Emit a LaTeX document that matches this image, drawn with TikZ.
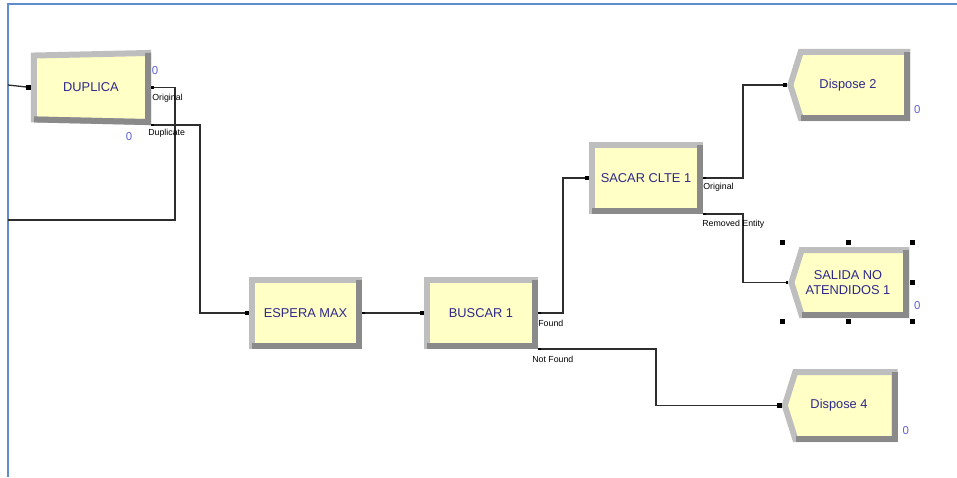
\documentclass[tikz,border=0pt]{standalone}
\usepackage{fontspec}
\setmainfont{Liberation Sans}
\usetikzlibrary{shapes.geometric,shapes.symbols,positioning,calc}

\definecolor{amarillo}{RGB}{255,255,198}
\definecolor{biselclaro}{RGB}{190,190,190}
\definecolor{biseloscuro}{RGB}{138,138,138}
\definecolor{azultexto}{RGB}{45,40,140}
\definecolor{azulcont}{RGB}{95,95,210}
\definecolor{marco}{RGB}{95,140,205}
\definecolor{linea}{RGB}{45,45,45}

% dark bevel on bottom and right side
\newcommand{\bisel}[1]{%
  \draw[biselos] ($(#1.south west)+(3,-3)$) -- ($(#1.south east)+(-3,-3)$) -- ($(#1.north east)+(-3,3)$);}
\newcommand{\biselsal}[1]{%
  \draw[biselos] ($(#1.south -| #1.west)+(14,-3)$) -- ($(#1.south -| #1.east)+(-3,-3)$) -- ($(#1.north -| #1.east)+(-3,3)$);}
\newcommand{\izq}{\hspace*{2.4mm}}

\begin{document}
\begin{tikzpicture}[x=0.2mm, y=-0.2mm,
    modulo/.style={rectangle, draw=biselclaro, line width=1.2mm, fill=amarillo, inner sep=0pt,
                   align=center, text=azultexto, font=\fontsize{7.3}{8.6}\selectfont,
                   minimum height=13.2mm},
    desecho/.style={modulo, signal, signal to=west, signal pointer angle=145},
    torcido/.style={modulo, trapezium, shape border rotate=90, trapezium stretches body,
                    trapezium left angle=87.4, trapezium right angle=87.4},
    biselos/.style={draw=biseloscuro, line width=1.2mm},
    flujo/.style={draw=linea, line width=0.26mm},
    entrada/.style={fill=black, minimum size=0.9mm, inner sep=0pt, outer sep=0pt},
    puntosal/.style={fill=black, minimum size=0.5mm, inner sep=0pt, outer sep=0pt},
    rotulo/.style={font=\fontsize{5}{5}\selectfont, anchor=west, inner sep=0pt},
    contador/.style={font=\fontsize{6.5}{6.5}\selectfont, text=azulcont, inner sep=0pt},
    manija/.style={fill=black, minimum size=1mm, inner sep=0pt}
]
\useasboundingbox (0,0) rectangle (957,477);
\draw[marco, line width=0.3mm] (8,477) -- (8,4) -- (957,4);

% trapezium sizes are given before the rotation
\node[torcido, minimum width=13.8mm, minimum height=22.8mm] (duplica) at (91,87.5) {DUPLICA};
\node[modulo, minimum width=21.4mm] (espera) at (305.5,313) {ESPERA MAX};
\node[modulo, minimum width=21.6mm, right=12.4mm of espera] (buscar) {BUSCAR 1};
\node[modulo, minimum width=21.6mm] (sacar) at (646,178) {SACAR CLTE 1};
\node[desecho, minimum width=23.4mm] (d2) at (854,85) {Dispose 2\izq};
\node[desecho, minimum width=23mm, minimum height=13mm] (salida) at (854,282.5) {SALIDA NO\izq\\ATENDIDOS 1\izq};
\node[desecho, minimum width=22mm, minimum height=13.4mm] (d4) at (845,405.5) {Dispose 4\izq};

\draw[biselos] ($(duplica.top left corner)+(3,-3)$) -- ($(duplica.bottom left corner)+(-3,-3)$)
  -- ($(duplica.bottom right corner)+(-3,3)$);
\foreach \n in {espera,buscar,sacar} {\bisel{\n}}
\foreach \n in {d2,salida,d4} {\biselsal{\n}}

\coordinate (izqA) at (8,85);
\coordinate (izqB) at (8,220);

\draw[flujo] (izqA) -- (duplica.west);
\draw[flujo] (duplica.east) -- ++(24,0) |- (izqB);
\draw[flujo] (duplica.bottom left corner) -- ++(49,0) |- (espera.west);
\draw[flujo] (espera.east) -- (buscar.west);
\draw[flujo] (buscar.east) -- ++(25,0) |- (sacar.west);
\draw[flujo] (buscar.south east) -- ++(118,0) |- (d4.west);
\draw[flujo] (sacar.east) -- ++(40,0) |- (d2.west);
\draw[flujo] (sacar.south east) -- ++(40,0) |- (salida.west);

\foreach \n in {duplica,espera,buscar,sacar,d2,d4}
  \node[entrada, left=0pt of \n.west] (ent-\n) {};
\node[puntosal, left=0pt of salida.west] (ent-salida) {};
\foreach \a [count=\i] in {duplica.east,duplica.bottom left corner,espera.east,buscar.east,
                           buscar.south east,sacar.east,sacar.south east}
  \node[puntosal, right=0pt of \a] (sal\i) {};

\node[rotulo] (r-orig1) at ($(duplica.east)+(1,11)$) {Original};
\node[rotulo] (r-dup) at ($(duplica.bottom left corner)+(-3,8)$) {Duplicate};
\node[rotulo] (r-found) at ($(buscar.east)+(0,10)$) {Found};
\node[rotulo] (r-notfound) at ($(buscar.south east)+(-6,10)$) {Not Found};
\node[rotulo] (r-orig2) at ($(sacar.east)+(0,9)$) {Original};
\node[rotulo] (r-removed) at ($(sacar.south east)+(-1,10)$) {Removed Entity};

\node[contador] (c1) at ($(duplica.east)+(4,-17)$) {0};
\node[contador] (c2) at ($(duplica.bottom left corner)+(-22,11)$) {0};
\node[contador] (c3) at ($(d2.south east)+(7,-5)$) {0};
\node[contador] (c4) at ($(salida.south east)+(8,-6)$) {0};
\node[contador] (c5) at ($(d4.south east)+(8,-5)$) {0};

% selection handles
\foreach \x/\y [count=\i] in {782/242,848/242,912/242,912/282,782/321,848/321,912/321}
  \node[manija] (h\i) at (\x,\y) {};
\end{tikzpicture}
\end{document}
